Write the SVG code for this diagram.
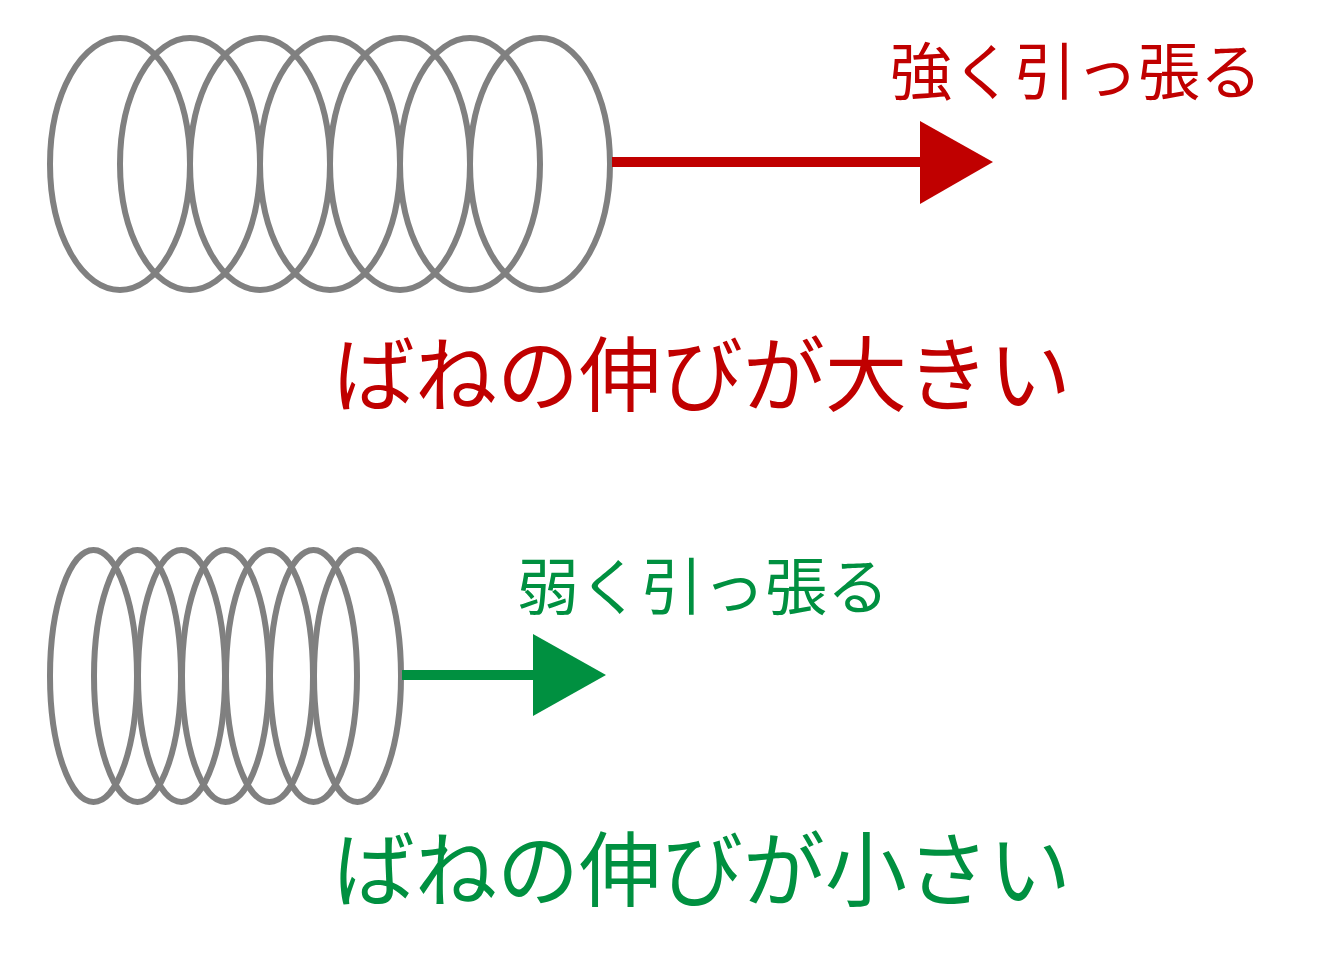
<svg xmlns="http://www.w3.org/2000/svg" width="1333" height="958" viewBox="0 0 1333 958">
<style>
.c{fill:none;stroke:#808080;stroke-width:6}
.t{font-family:"Noto Sans CJK JP",sans-serif}
.r{fill:#c00000}.g{fill:#009040}
</style>
<rect width="1333" height="958" fill="#fff"/>
<g id="spring1">
<ellipse class="c" cx="120" cy="164" rx="70" ry="126"/><ellipse class="c" cx="190" cy="164" rx="70" ry="126"/><ellipse class="c" cx="260" cy="164" rx="70" ry="126"/><ellipse class="c" cx="330" cy="164" rx="70" ry="126"/><ellipse class="c" cx="400" cy="164" rx="70" ry="126"/><ellipse class="c" cx="470" cy="164" rx="70" ry="126"/><ellipse class="c" cx="540" cy="164" rx="70" ry="126"/>
</g>
<g id="spring2">
<ellipse class="c" cx="93.5" cy="676" rx="43.5" ry="126"/><ellipse class="c" cx="137.5" cy="676" rx="43.5" ry="126"/><ellipse class="c" cx="181.5" cy="676" rx="43.5" ry="126"/><ellipse class="c" cx="225.5" cy="676" rx="43.5" ry="126"/><ellipse class="c" cx="269.5" cy="676" rx="43.5" ry="126"/><ellipse class="c" cx="313.5" cy="676" rx="43.5" ry="126"/><ellipse class="c" cx="357.5" cy="676" rx="43.5" ry="126"/>
</g>
<g id="connectors">
<line x1="612" y1="162" x2="925" y2="162" stroke="#c00000" stroke-width="10"/>
<polygon class="r" points="920,121 993,162 920,204"/>
<line x1="402" y1="675" x2="538" y2="675" stroke="#009040" stroke-width="10"/>
<polygon class="g" points="533,634 606,675 533,716"/>
</g>
<g id="labels">
<text class="t r" x="890" y="95" font-size="62">強く引っ張る</text>
<text class="t r" x="333" y="405" font-size="82">ばねの伸びが大きい</text>
<text class="t g" x="517" y="610" font-size="62">弱く引っ張る</text>
<text class="t g" x="333" y="900" font-size="82">ばねの伸びが小さい</text>
</g>
</svg>
